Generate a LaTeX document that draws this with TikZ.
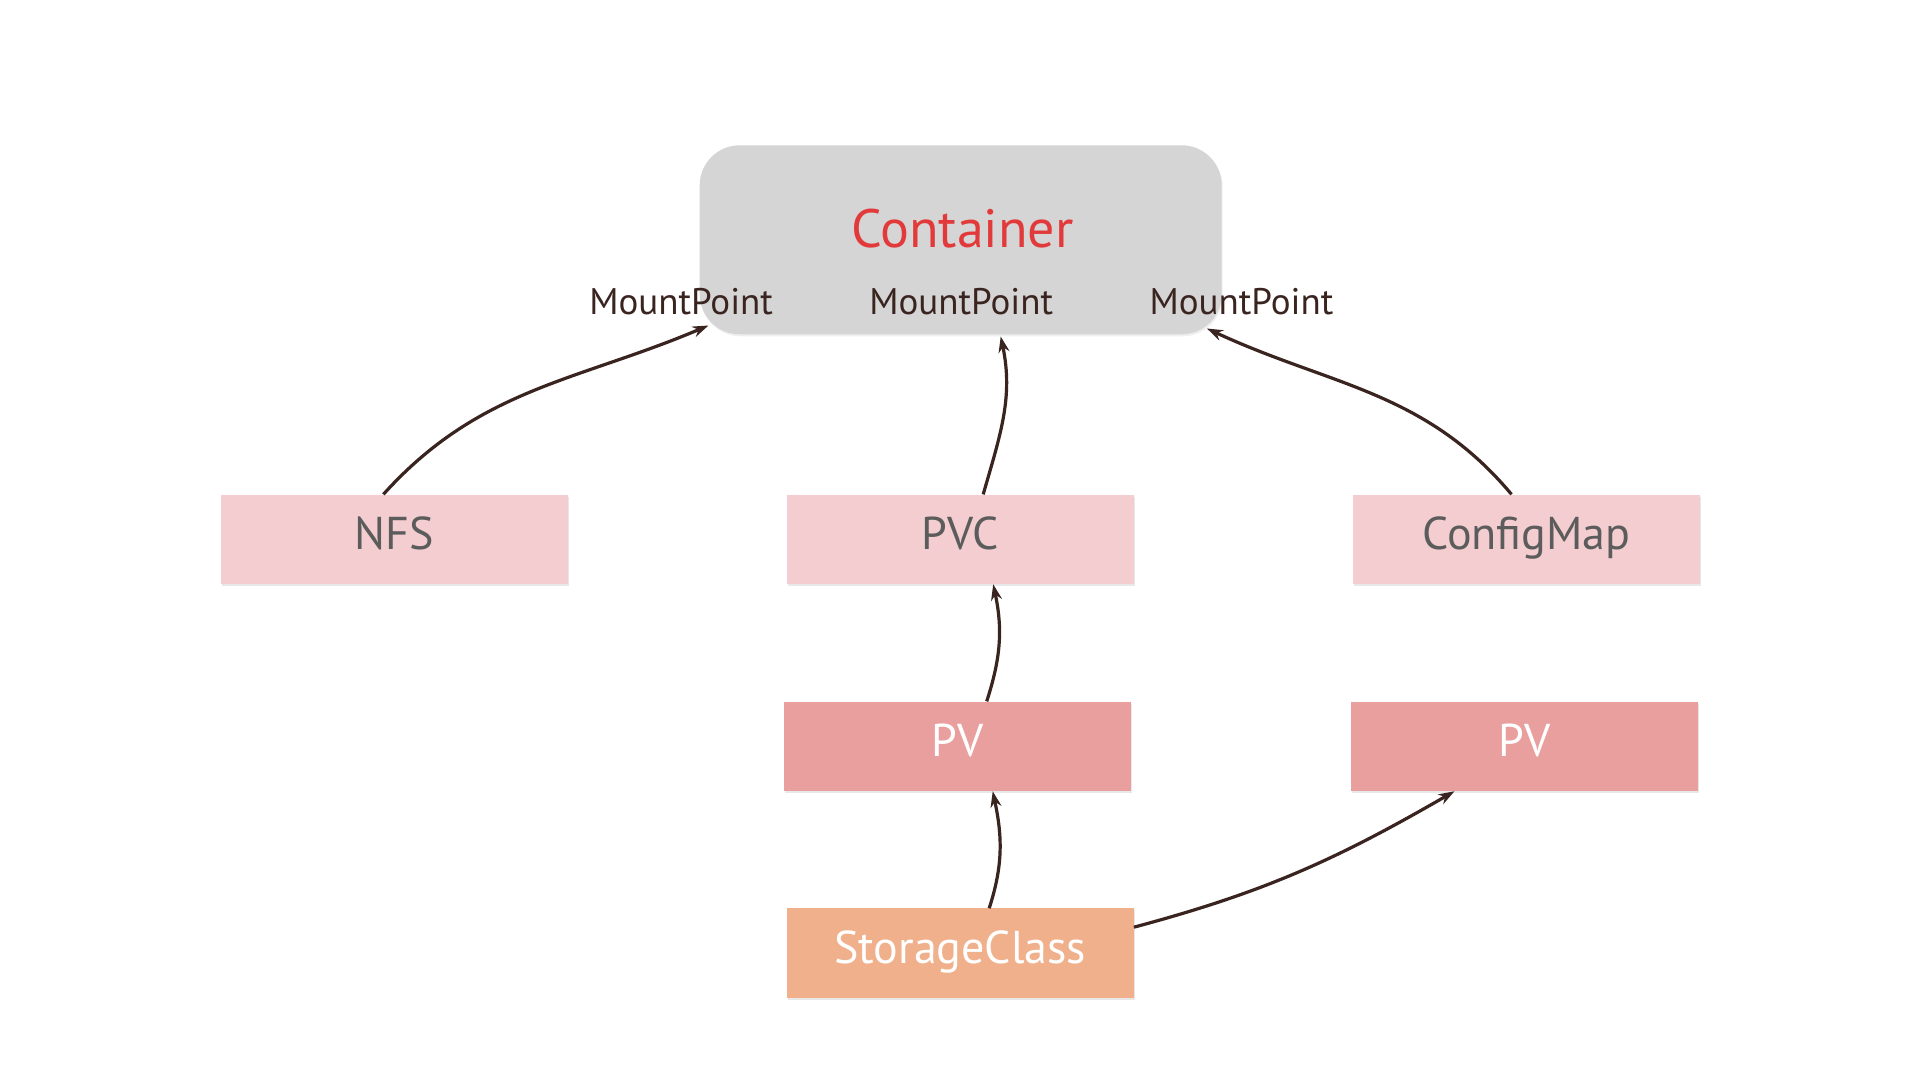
\documentclass[tikz,border=0pt]{standalone}
\usepackage{fontspec}
\setmainfont{PT Sans}
\usetikzlibrary{shapes, arrows.meta, positioning, shadows}
\definecolor{boxpink}{HTML}{F3CDCF}
\definecolor{pvred}{HTML}{E89F9D}
\definecolor{scorange}{HTML}{F0B08B}
\definecolor{ctgray}{HTML}{D5D5D5}
\definecolor{ctred}{HTML}{E23A3A}
\definecolor{linebrown}{HTML}{3A2420}
\definecolor{labelgray}{HTML}{5C5C5C}
\tikzstyle{res} = [rectangle, minimum width=347pt, minimum height=89.5pt, inner sep=0pt,
  text height=32pt, text depth=11pt, font=\fontsize{46}{50}\selectfont,
  drop shadow={opacity=0.18, shadow xshift=1pt, shadow yshift=-2pt}]
\tikzstyle{light} = [res, fill=boxpink, text=labelgray]
\tikzstyle{pvbox} = [res, fill=pvred, text=white]
\tikzstyle{scbox} = [res, fill=scorange, text=white]
\tikzstyle{mount} = [anchor=base, text=linebrown, font=\fontsize{37}{40}\selectfont]
\tikzstyle{link} = [-{Stealth[length=16pt, width=11pt]}, draw=linebrown, line width=3.2pt]

\begin{document}
\begin{tikzpicture}[x=1pt, y=1pt]
  \useasboundingbox[fill=white] (0,0) rectangle (1920,1080);

  % 容器
  \node[rectangle, rounded corners=40pt, fill=ctgray, minimum width=522pt, minimum height=189pt,
    drop shadow={opacity=0.12, shadow xshift=1pt, shadow yshift=-2pt}] (ct) at (960.7,840.2) {};
  \node[text=ctred, font=\fontsize{54}{58}\selectfont] (cttitle) at (962.5,851) {Container};

  % 挂载点
  \node[mount] (mp1) at (681.1,765.6) {MountPoint};
  \node[mount] (mp2) at (961.2,765.6) {MountPoint};
  \node[mount] (mp3) at (1241.4,765.6) {MountPoint};

  % 卷来源
  \node[light] (nfs) at (394.4,540.7) {NFS};
  \node[light] (pvc) at (960.2,540.7) {PVC};
  \node[light] (cm) at (1526.5,540.7) {ConfigMap};

  % 持久卷
  \node[pvbox] (pv1) at (957.7,333.7) {PV};
  \node[pvbox] (pv2) at (1524.5,333.7) {PV};

  % 存储类
  \node[scbox] (sc) at (960.2,126.8) {StorageClass};

  % 挂载
  \draw[link] ([xshift=-11pt]nfs.north) to[out=48, in=203] ([xshift=9pt, yshift=9pt]ct.south west);
  \draw[link] ([xshift=23pt]pvc.north) to[out=74, in=-78] ([xshift=40pt, yshift=-2pt]ct.south);
  \draw[link] ([xshift=-15pt]cm.north) to[out=130, in=-25] ([xshift=-15pt, yshift=6pt]ct.south east);

  % 绑定
  \draw[link] ([xshift=29pt]pv1.north) to[out=72, in=-78] ([xshift=33pt]pvc.south);
  \draw[link] ([xshift=29pt]sc.north) to[out=72, in=-78] ([xshift=35pt]pv1.south);
  \draw[link] ([yshift=26pt]sc.east) to[out=15, in=210] ([xshift=-70pt]pv2.south);
\end{tikzpicture}
\end{document}
